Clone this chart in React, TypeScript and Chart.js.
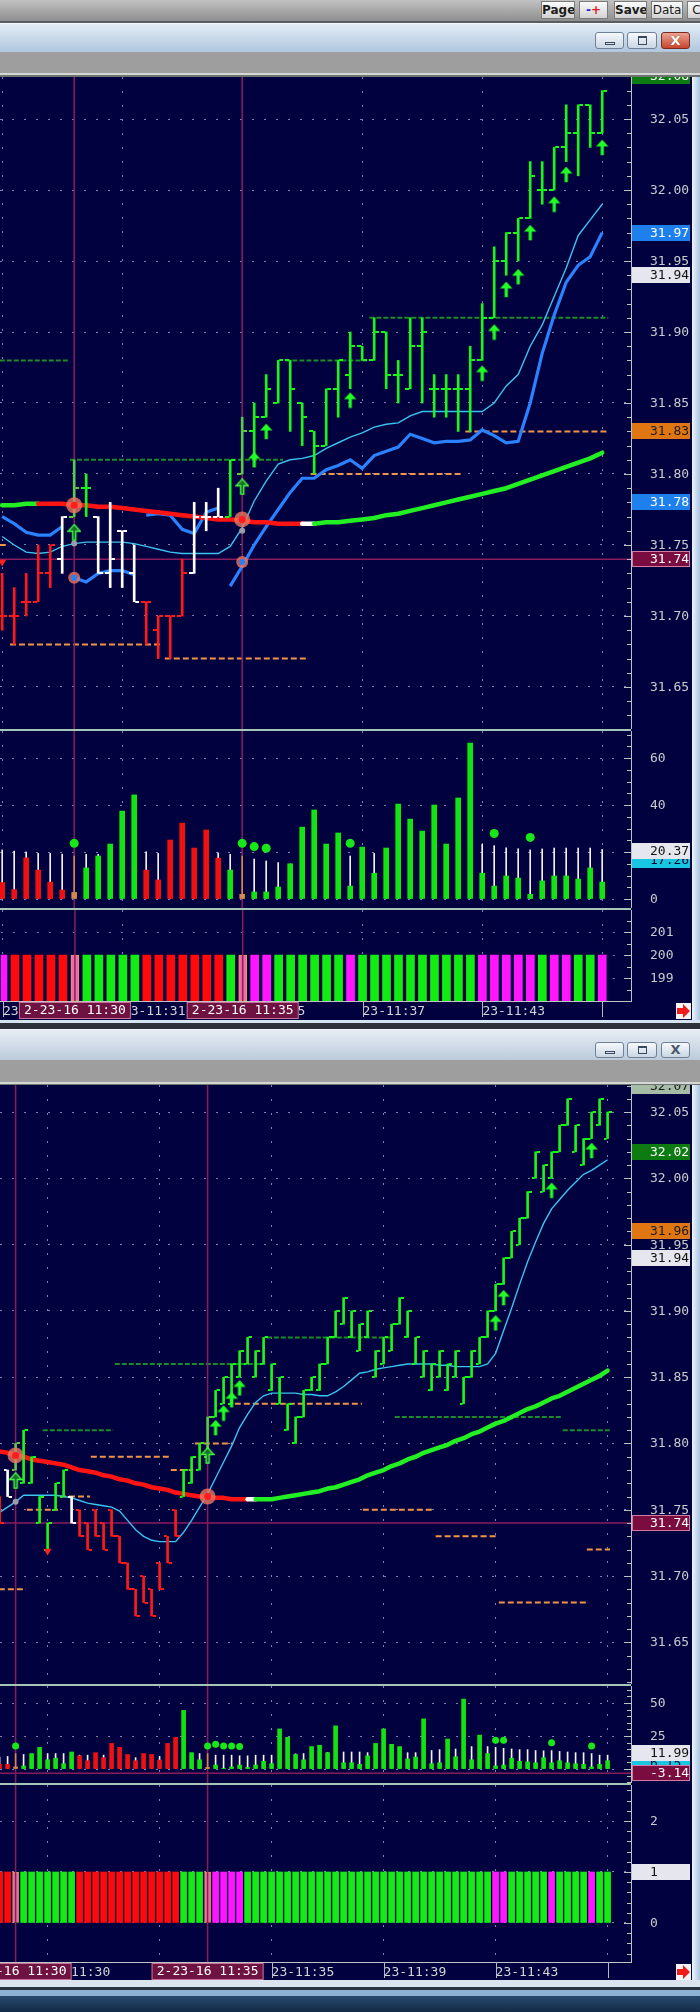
import React, { useEffect, useRef } from "react";
import { Chart, registerables } from "chart.js";

Chart.register(...registerables);
Chart.defaults.font.family = "'DejaVu Sans Mono', monospace";
Chart.defaults.font.size = 13;

/* ======================= UPPER WINDOW DATA ======================= */
const upperOpen = [31.70, 31.70, 31.71, 31.71, 31.73, 31.74, 31.77, 31.79, 31.77, 31.73,
  31.76, 31.73, 31.71, 31.69, 31.70, 31.70, 31.73, 31.77, 31.77, 31.77,
  31.80, 31.83, 31.84, 31.85, 31.88, 31.85, 31.83, 31.82, 31.86, 31.87,
  31.89, 31.88, 31.90, 31.87, 31.86, 31.89, 31.86, 31.86, 31.86, 31.86,
  31.88, 31.91, 31.95, 31.97, 31.98, 32.00, 32.00, 32.03, 32.04, 32.06, 32.04];
const upperHigh = [31.73, 31.72, 31.73, 31.75, 31.75, 31.77, 31.81, 31.80, 31.77, 31.78,
  31.76, 31.75, 31.71, 31.70, 31.70, 31.74, 31.78, 31.78, 31.79, 31.81,
  31.84, 31.85, 31.87, 31.88, 31.88, 31.85, 31.83, 31.86, 31.88, 31.90,
  31.89, 31.91, 31.90, 31.88, 31.91, 31.91, 31.87, 31.87, 31.87, 31.89,
  31.92, 31.96, 31.97, 31.98, 32.02, 32.02, 32.03, 32.06, 32.06, 32.06, 32.07];
const upperLow = [31.69, 31.68, 31.70, 31.71, 31.72, 31.73, 31.77, 31.77, 31.73, 31.72,
  31.72, 31.71, 31.68, 31.67, 31.67, 31.70, 31.73, 31.76, 31.77, 31.77,
  31.80, 31.81, 31.84, 31.85, 31.83, 31.82, 31.80, 31.82, 31.84, 31.86,
  31.88, 31.88, 31.86, 31.85, 31.86, 31.85, 31.84, 31.84, 31.83, 31.83,
  31.88, 31.91, 31.94, 31.95, 31.98, 31.99, 32.00, 32.02, 32.01, 32.03, 32.04];
const upperClose = [31.70, 31.70, 31.71, 31.73, 31.75, 31.77, 31.79, 31.79, 31.73, 31.74,
  31.76, 31.71, 31.71, 31.70, 31.70, 31.73, 31.77, 31.77, 31.77, 31.81,
  31.83, 31.84, 31.86, 31.88, 31.86, 31.84, 31.82, 31.86, 31.88, 31.89,
  31.88, 31.90, 31.87, 31.87, 31.89, 31.90, 31.86, 31.86, 31.86, 31.88,
  31.91, 31.95, 31.97, 31.98, 32.01, 32.00, 32.03, 32.04, 32.06, 32.04, 32.07];
const upperBarKind = "rrrrrwhgwwwwrrrrwwwgh" + "gggggggggg" + "gggggggggg" + "gggggggggg";

const upperMA = [31.778, 31.778, 31.779, 31.779, 31.779, 31.779, 31.778, 31.778, 31.777, 31.777,
  31.776, 31.775, 31.774, 31.773, 31.772, 31.771, 31.770, 31.769, 31.768, 31.768,
  31.767, 31.766, 31.766, 31.765, 31.765, 31.765, 31.765, 31.766, 31.766, 31.767,
  31.768, 31.769, 31.771, 31.772, 31.774, 31.776, 31.778, 31.780, 31.782, 31.784,
  31.786, 31.788, 31.790, 31.793, 31.796, 31.799, 31.802, 31.805, 31.808, 31.811, 31.815];
const upperMAKind = "ggg" + "rrrrrrrrrr" + "rrrrrrrrrr" + "rr" + "w" + "gggggggggg" + "gggggggggg" + "ggggg";

const upperCyan = [31.756, 31.750, 31.745, 31.744, 31.745, 31.749, 31.751, 31.752, 31.752, 31.752,
  31.752, 31.751, 31.749, 31.747, 31.745, 31.744, 31.744, 31.744, 31.744, 31.749,
  31.762, 31.781, 31.795, 31.807, 31.810, 31.811, 31.813, 31.818, 31.822, 31.826,
  31.829, 31.833, 31.835, 31.836, 31.841, 31.844, 31.844, 31.844, 31.844, 31.844,
  31.844, 31.850, 31.862, 31.870, 31.890, 31.905, 31.925, 31.945, 31.968, 31.979, 31.990];

const upperBlue = [31.770, 31.765, 31.759, 31.757, 31.757, 31.763, 31.727, 31.724, 31.730, 31.732,
  31.732, 31.729, 31.771, 31.772, 31.771, 31.761, 31.758, 31.773, 31.776, 31.721,
  31.735, 31.750, 31.763, 31.775, 31.787, 31.797, 31.797, 31.803, 31.806, 31.810,
  31.804, 31.813, 31.816, 31.819, 31.828, 31.825, 31.822, 31.823, 31.823, 31.824,
  31.831, 31.827, 31.822, 31.823, 31.850, 31.885, 31.912, 31.935, 31.947, 31.953, 31.970];
const upperBlueBreaks = [5, 11, 18];

const upperRefPrice = 31.74;
const upperLevelFrom = [-0.2, 5.65, 23.6, 30.6, -0.2, 0.65, 13.55, 25.7, 38.6];
const upperLevelTo = [5.5, 23.4, 30.4, 50.5, 0.4, 13.4, 25.5, 38.4, 50.5];
const upperLevelPrice = [31.88, 31.81, 31.88, 31.91, 31.75, 31.68, 31.67, 31.80, 31.83];
const upperLevelKind = ["g", "g", "g", "g", "o", "o", "o", "o", "o"];

const upperArrowIndex = [6, 20, 21, 22, 29, 40, 41, 42, 43, 44, 46, 47, 50];
const upperArrowPrice = [31.759, 31.791, 31.810, 31.830, 31.852, 31.871, 31.900, 31.930, 31.939, 31.970, 31.990, 32.011, 32.030];
const upperArrowHollow = [1, 1, 0, 0, 0, 0, 0, 0, 0, 0, 0, 0, 0];

const upperCircleIndex = [6, 20];
const upperCirclePrice = [31.778, 31.768];
const upperRingIndex = [6, 20];
const upperRingPrice = [31.727, 31.738];
const upperGrayIndex = [6, 20];
const upperGrayPrice = [31.751, 31.760];
const upperDownIndex = [0];
const upperDownPrice = [31.738];

const upperPriceBoxValue = [32.08, 31.97, 31.94, 31.83, 31.78, 31.74];
const upperPriceBoxStyle = ["green", "blue", "light", "orange", "blue", "maroon"];

const upperVolume = [7, 4, 17.5, 12.3, 7.2, 3.8, 2.8, 13.2, 18.3, 23.4,
  37.4, 44.3, 12.3, 8.1, 25.1, 32.3, 21.7, 29.4, 17.4, 12.3,
  2, 3, 3, 5.1, 15, 30.6, 37.9, 23.4, 28.1, 5.5,
  22.1, 11, 21.7, 40.4, 34, 28.9, 40, 23.4, 43, 66.4,
  11, 5.5, 9.8, 8.9, 2, 7.7, 9.8, 9.8, 8.5, 13.2, 7.2];
const upperVolumeKind = "rrrrrrogggggrrrrrrrgo" + "gggggggggg" + "gggggggggg" + "gggggggggg";
const upperVolumeLine = [20.9, 20.4, 20, 19.4, 19.4, 19.1, 18.3, 19, 19, 19,
  20.1, 20.1, 20.1, 19.4, 19, 19.1, 19.6, 19.6, 19.6, 19,
  18.3, 17, 16.2, 15.5, 14.9, 15.9, 16.6, 17.3, 18, 18.3,
  18.7, 19.4, 19.4, 20.1, 20.9, 21.1, 20.6, 20.6, 21.6, 22.3,
  23.3, 22.7, 21.8, 21.4, 20.9, 21.3, 21.7, 21.7, 21.7, 21.7, 21.1];
const upperDotIndex = [6, 20, 21, 22, 29, 41, 44];
const upperDotValue = [23.7, 23.7, 22.3, 21.6, 23.7, 27.9, 26.2];
const upperVolumeBoxValue = [16.5, 20.37];
const upperVolumeBoxText = ["17.26", "20.37"];
const upperVolumeBoxStyle = ["cyan", "light"];

const upperSignalKind = ["m", "rrrrr", "o", "ggggg", "rrrrrrr", "g", "o", "mm", "gggggg", "m",
  "gggggggggg", "mmmmm", "g", "mm", "gg", "m"].join("");
const upperSignalValue = 200;
const upperSignalFloor = 198;

const upperPriceTicks = [31.65, 31.7, 31.75, 31.8, 31.85, 31.9, 31.95, 32.0, 32.05];
const upperVolumeTicks = [0, 20, 40, 60];
const upperSignalTicks = [199, 200, 201];
const upperTimeTicks = [0, 10, 20, 30, 40, 50];
const upperTimeLabels = ["23-11:29", "23-11:31", "23-11:35", "23-11:37", "23-11:43", ""];
const upperCrossIndex = [6, 20];
const upperCrossLabel = ["2-23-16 11:30", "2-23-16 11:35"];

/* ======================= LOWER WINDOW DATA ======================= */
const lowerOpen = [31.76, 31.78, 31.78, 31.77, 31.77, 31.74, 31.72, 31.75, 31.76, 31.76,
  31.75, 31.74, 31.75, 31.74, 31.75, 31.73, 31.71, 31.69, 31.70, 31.69,
  31.71, 31.73, 31.75, 31.76, 31.77, 31.78, 31.79, 31.82, 31.83, 31.83,
  31.85, 31.86, 31.85, 31.86, 31.84, 31.83, 31.81, 31.80, 31.82, 31.84,
  31.84, 31.86, 31.88, 31.89, 31.88, 31.87, 31.88, 31.85, 31.86, 31.87,
  31.89, 31.88, 31.86, 31.85, 31.84, 31.85, 31.84, 31.85, 31.83, 31.85,
  31.86, 31.88, 31.90, 31.92, 31.94, 31.95, 31.97, 32.00, 31.99, 32.00,
  32.02, 32.04, 32.02, 32.01, 32.03, 32.04, 32.03];
const lowerHigh = [31.76, 31.78, 31.80, 31.81, 31.79, 31.76, 31.74, 31.77, 31.78, 31.76,
  31.75, 31.74, 31.75, 31.74, 31.75, 31.73, 31.71, 31.69, 31.70, 31.69,
  31.71, 31.73, 31.75, 31.78, 31.79, 31.80, 31.82, 31.84, 31.85, 31.86,
  31.87, 31.88, 31.87, 31.88, 31.86, 31.85, 31.83, 31.82, 31.84, 31.85,
  31.86, 31.88, 31.90, 31.91, 31.90, 31.89, 31.90, 31.87, 31.88, 31.89,
  31.91, 31.90, 31.88, 31.87, 31.86, 31.87, 31.86, 31.87, 31.85, 31.87,
  31.88, 31.90, 31.92, 31.94, 31.96, 31.97, 31.99, 32.02, 32.01, 32.02,
  32.04, 32.06, 32.04, 32.03, 32.05, 32.06, 32.05];
const lowerLow = [31.74, 31.76, 31.78, 31.77, 31.77, 31.74, 31.72, 31.75, 31.76, 31.74,
  31.73, 31.72, 31.73, 31.72, 31.73, 31.71, 31.69, 31.67, 31.68, 31.67,
  31.69, 31.71, 31.73, 31.76, 31.77, 31.78, 31.79, 31.82, 31.83, 31.83,
  31.85, 31.86, 31.85, 31.86, 31.84, 31.83, 31.81, 31.80, 31.82, 31.84,
  31.84, 31.86, 31.88, 31.89, 31.88, 31.87, 31.88, 31.85, 31.86, 31.87,
  31.89, 31.88, 31.86, 31.85, 31.84, 31.85, 31.84, 31.85, 31.83, 31.85,
  31.86, 31.88, 31.90, 31.92, 31.94, 31.95, 31.97, 32.00, 31.99, 32.00,
  32.02, 32.04, 32.02, 32.01, 32.03, 32.04, 32.03];
const lowerClose = [31.74, 31.76, 31.80, 31.81, 31.79, 31.76, 31.74, 31.77, 31.78, 31.74,
  31.73, 31.72, 31.73, 31.72, 31.73, 31.71, 31.69, 31.67, 31.68, 31.67,
  31.69, 31.71, 31.73, 31.78, 31.79, 31.80, 31.82, 31.84, 31.85, 31.86,
  31.87, 31.88, 31.87, 31.88, 31.86, 31.85, 31.83, 31.82, 31.84, 31.85,
  31.86, 31.88, 31.90, 31.91, 31.90, 31.89, 31.90, 31.87, 31.88, 31.89,
  31.91, 31.90, 31.88, 31.87, 31.86, 31.87, 31.86, 31.87, 31.85, 31.87,
  31.88, 31.90, 31.92, 31.94, 31.96, 31.97, 31.99, 32.02, 32.01, 32.02,
  32.04, 32.06, 32.04, 32.03, 32.05, 32.06, 32.05];
const lowerBarKind = ["r", "w", "h", "gggggg", "w", "rrrrrrrrrrrrr", "ggg", "h",
  "gggggggggg", "gggggggggg", "gggggggggg", "gggggggggg", "gggggggggg"].join("");

const lowerMA = [31.794, 31.793, 31.791, 31.790, 31.788, 31.787, 31.786, 31.785, 31.784, 31.782,
  31.780, 31.779, 31.778, 31.776, 31.775, 31.773, 31.772, 31.770, 31.769, 31.767,
  31.766, 31.765, 31.763, 31.762, 31.761, 31.760, 31.760, 31.759, 31.759, 31.758,
  31.758, 31.758, 31.758, 31.758, 31.758, 31.759, 31.760, 31.761, 31.762, 31.763,
  31.764, 31.766, 31.767, 31.769, 31.771, 31.773, 31.776, 31.778, 31.780, 31.783,
  31.785, 31.788, 31.790, 31.793, 31.795, 31.797, 31.799, 31.802, 31.804, 31.807,
  31.809, 31.812, 31.815, 31.817, 31.820, 31.823, 31.826, 31.828, 31.831, 31.834,
  31.836, 31.839, 31.842, 31.845, 31.848, 31.851, 31.855];
const lowerMAKind = ["rrrrrrrrrr", "rrrrrrrrrr", "rrrrrrrrrr", "r", "w",
  "gggggggggg", "gggggggggg", "gggggggggg", "gggggggggg", "ggggg"].join("");

const lowerCyan = [31.748, 31.752, 31.756, 31.761, 31.761, 31.761, 31.761, 31.761, 31.760, 31.759,
  31.757, 31.755, 31.754, 31.753, 31.752, 31.749, 31.742, 31.735, 31.730, 31.727,
  31.726, 31.726, 31.726, 31.733, 31.742, 31.752, 31.762, 31.774, 31.786, 31.798,
  31.812, 31.822, 31.831, 31.836, 31.838, 31.838, 31.838, 31.838, 31.837, 31.837,
  31.836, 31.836, 31.839, 31.843, 31.848, 31.853, 31.854, 31.856, 31.857, 31.858,
  31.859, 31.860, 31.860, 31.860, 31.860, 31.859, 31.859, 31.858, 31.858, 31.858,
  31.858, 31.860, 31.868, 31.885, 31.902, 31.920, 31.937, 31.952, 31.966, 31.977,
  31.984, 31.991, 31.997, 32.003, 32.006, 32.010, 32.014];

const lowerRefPrice = 31.74;
const lowerLevelFrom = [14.4, 5.4, 33.4, 49.4, 70.4, -0.1, 3.4, 7.55, 11.4, 21.4, 24.4, 29.4, 45.4, 54.5, 62.4, 73.4];
const lowerLevelTo = [33.2, 14.2, 49.2, 70.3, 76.3, 3.3, 7.3, 11.3, 21.3, 24.2, 29.2, 45.3, 54.3, 62.3, 73.3, 76.3];
const lowerLevelPrice = [31.86, 31.81, 31.88, 31.82, 31.81, 31.69, 31.75, 31.76, 31.79, 31.78, 31.80, 31.83, 31.75, 31.73, 31.68, 31.72];
const lowerLevelKind = ["g", "g", "g", "g", "g", "o", "o", "o", "o", "o", "o", "o", "o", "o", "o", "o"];

const lowerArrowIndex = [2, 26, 27, 28, 29, 30, 62, 63, 69, 74];
const lowerArrowPrice = [31.772, 31.791, 31.812, 31.823, 31.833, 31.842, 31.891, 31.910, 31.991, 32.021];
const lowerArrowHollow = [1, 1, 0, 0, 0, 0, 0, 0, 0, 0];
const lowerCircleIndex = [2, 26];
const lowerCirclePrice = [31.791, 31.760];
const lowerGrayIndex = [2];
const lowerGrayPrice = [31.756];
const lowerDownIndex = [6];
const lowerDownPrice = [31.719];

const lowerPriceBoxValue = [32.07, 32.02, 31.96, 31.94, 31.74];
const lowerPriceBoxStyle = ["sage", "green", "orange", "light", "maroon"];

const lowerVolume = [3.5, 3.5, 1.6, 2.3, 11.7, 16.4, 7, 8.2, 4, 12.9,
  10, 6.3, 12.4, 8.6, 19.4, 16.4, 11, 6.3, 11.7, 11,
  6.8, 19.4, 24, 44.4, 12.4, 7, 1.2, 3, 0.5, 1.6,
  3, 1.2, 3, 5.8, 4, 30.4, 24, 11, 7, 17,
  18, 12.4, 32.7, 4.7, 4.7, 3.5, 10, 19.4, 30.4, 18.7,
  17, 7.7, 9.1, 38, 4, 4.7, 22.7, 9.3, 53, 7,
  25.7, 11.7, 2.3, 3, 8.2, 5.8, 5.4, 4.7, 8.6, 4.7,
  6.3, 4.7, 4, 3.5, 1.6, 3.5, 6.3];
const lowerVolumeKind = ["rr", "o", "ggggggg", "rrrrrrrrrrrrr", "ggg", "o",
  "gggggggggg", "gggggggggg", "gggggggggg", "gggggggggg", "gggggggggg"].join("");
const lowerVolumeLine = [9, 9.5, 11.7, 11, 11, 11, 11.7, 11.7, 11.7, 11,
  10.5, 10.5, 10.5, 10.5, 10.5, 10.5, 9.8, 8.6, 9.5, 9.5,
  9.5, 10, 10, 10.5, 11, 11.7, 11.7, 10.5, 10.5, 10.5,
  10, 10, 10.5, 10.5, 10.5, 11, 11, 11.5, 11.7, 12,
  12.4, 12.6, 12.9, 12.9, 12.9, 12.9, 12.4, 12.4, 12.4, 12.4,
  12.4, 12.4, 12.4, 13, 14, 14.7, 15, 15.2, 16, 17,
  17, 17, 16.4, 15.7, 15.2, 14.7, 14.7, 14, 13.8, 14,
  13.3, 12.9, 12.4, 12.4, 11.7, 10.5, 10.5];
const lowerDotIndex = [2, 26, 27, 28, 29, 30, 62, 63, 69, 74];
const lowerDotValue = [17.5, 17.5, 18.7, 17.5, 17.5, 17, 21.7, 21.7, 19.9, 17.5];
const lowerVolumeRef = -3.14;
const lowerVolumeBoxValue = [4.6, 11.99, -3.14];
const lowerVolumeBoxText = ["6.15", "11.99", "-3.14"];
const lowerVolumeBoxStyle = ["cyan", "light", "maroon"];

const lowerSignalKind = ["rr", "o", "ggggggg", "rrrrrrrrrrrrr", "ggg", "o", "mmmm",
  "gggggggggg", "gggggggggg", "gggggggggg", "g", "mm", "ggggg", "m", "gggg", "m", "gg"].join("");
const lowerSignalValue = 1;
const lowerSignalFloor = 0;
const lowerSignalBoxValue = [1];
const lowerSignalBoxStyle = ["light"];

const lowerPriceTicks = [31.65, 31.7, 31.75, 31.8, 31.85, 31.9, 31.95, 32.0, 32.05];
const lowerVolumeTicks = [0, 25, 50];
const lowerSignalTicks = [0, 1, 2];
const lowerTimeTicks = [6, 20, 34, 48, 62, 76];
const lowerTimeLabels = ["23-11:30", "23-11:33", "23-11:35", "23-11:39", "23-11:43", ""];
const lowerCrossIndex = [2, 26];
const lowerCrossLabel = ["2-23-16 11:30", "2-23-16 11:35"];

/* ======================= STYLE ======================= */
const NAVY = "#01013f";
const GRID = "rgba(150,150,200,0.85)";
const PURPLE = "#8a1c5c";
const CYAN = "#3cc4f0";
const BLUE = "#2a82ff";
const BAR_COLORS: any = { r: "#ff1a1a", g: "#1cf51c", w: "#ffffff", h: "#5cc84c" };
const VOL_COLORS: any = { r: "#f01010", g: "#12e412", o: "#d08a48" };
const SIG_COLORS: any = { r: "#ff0a0a", g: "#12ec12", m: "#ff16ff", o: "#f06aa8" };
const MA_COLORS: any = { r: "#ff1414", g: "#22f022", w: "#ffffff" };
const LEVEL_COLORS: any = { o: "#f0944a", g: "#1f8a28" };
const BOX_STYLES: any = {
  green: { bg: "#0c7c12", fg: "#ffffff" },
  blue: { bg: "#1e80ec", fg: "#ffffff" },
  light: { bg: "#e6e6ee", fg: "#111111" },
  orange: { bg: "#e07612", fg: "#1a1a1a" },
  maroon: { bg: "#7a0c40", fg: "#ffffff", edge: "#d07aa4" },
  cyan: { bg: "#18c6e2", fg: "#0a0a30" },
  sage: { bg: "#a6bca6", fg: "#1a1a1a" },
};
const LABEL_FONT = "13px 'DejaVu Sans Mono'";

const UPPER_X = { min: -0.183, max: 52.4 };
const LOWER_X = { min: 0.05, max: 78.925 };

/* ======================= HELPERS ======================= */
const imgCache: any = {};
function tickImage(color: string, side: string, len: number, w: number) {
  const key = color + side + len + "_" + w;
  if (imgCache[key]) return imgCache[key];
  const c = document.createElement("canvas");
  c.width = len * 2 + w;
  c.height = 2;
  const g = c.getContext("2d")!;
  g.fillStyle = color;
  if (side === "L") g.fillRect(0, 0, len, 2);
  else g.fillRect(len + w, 0, len, 2);
  imgCache[key] = c;
  return c;
}
function arrowImage(hollow: boolean) {
  const key = "arrow" + hollow;
  if (imgCache[key]) return imgCache[key];
  const c = document.createElement("canvas");
  c.width = 14;
  c.height = 17;
  const g = c.getContext("2d")!;
  g.beginPath();
  g.moveTo(7, 0.8);
  g.lineTo(13.2, 7.5);
  g.lineTo(8.6, 7.5);
  g.lineTo(8.6, 16.2);
  g.lineTo(5.4, 16.2);
  g.lineTo(5.4, 7.5);
  g.lineTo(0.8, 7.5);
  g.closePath();
  if (hollow) {
    g.fillStyle = "#1d6e2c";
    g.fill();
    g.strokeStyle = "#44ff44";
    g.lineWidth = 1.3;
    g.stroke();
  } else {
    g.fillStyle = "#22ff22";
    g.fill();
  }
  imgCache[key] = c;
  return c;
}

function lineDs(data: any[], color: string, width: number, order: number, extra: any = {}) {
  return { type: "line", data, borderColor: color, borderWidth: width, pointRadius: 0, pointHoverRadius: 0, fill: false, tension: 0, order, ...extra };
}
function pointsDs(data: any[], order: number, extra: any = {}) {
  return { type: "line", showLine: false, data, pointRadius: 4, pointHoverRadius: 0, pointBorderWidth: 0, order, ...extra };
}

function yLabelsPlugin(digits: number) {
  return {
    id: "yLabels",
    afterDraw(chart: any) {
      const { ctx, chartArea, scales } = chart;
      const y = scales.y;
      ctx.save();
      ctx.font = LABEL_FONT;
      ctx.fillStyle = "#c8cccc";
      ctx.textAlign = "left";
      ctx.textBaseline = "middle";
      y.ticks.forEach((t: any) => {
        ctx.fillText(Number(t.value).toFixed(digits), chartArea.right + 19, Math.round(y.getPixelForValue(t.value)) + 1);
      });
      ctx.restore();
    },
  };
}

function valueBoxesPlugin(values: number[], texts: string[], styles: string[]) {
  return {
    id: "valueBoxes",
    afterDraw(chart: any) {
      const { ctx, chartArea, scales } = chart;
      const y = scales.y;
      ctx.save();
      ctx.font = LABEL_FONT;
      ctx.textAlign = "left";
      ctx.textBaseline = "middle";
      values.forEach((v, k) => {
        const st = BOX_STYLES[styles[k]];
        const py = Math.round(y.getPixelForValue(v));
        const left = chartArea.right + 1;
        ctx.fillStyle = st.bg;
        ctx.fillRect(left, py - 8, 58, 16);
        if (st.edge) {
          ctx.strokeStyle = st.edge;
          ctx.lineWidth = 1;
          ctx.strokeRect(left + 0.5, py - 7.5, 57, 15);
        }
        ctx.fillStyle = st.fg;
        ctx.fillText(texts[k], chartArea.right + 19, py + 1);
      });
      ctx.restore();
    },
  };
}

function minorTicksPlugin(step: number, majorEvery: number) {
  return {
    id: "minorTicks",
    afterDraw(chart: any) {
      const { ctx, chartArea, scales } = chart;
      const y = scales.y;
      ctx.save();
      ctx.strokeStyle = "#b8c4c0";
      ctx.lineWidth = 1;
      const k0 = Math.ceil(y.min / step - 1e-6);
      const k1 = Math.floor(y.max / step + 1e-6);
      for (let k = k0; k <= k1; k++) {
        const py = Math.round(y.getPixelForValue(k * step)) + 0.5;
        const len = k % majorEvery === 0 ? 7 : 4;
        ctx.beginPath();
        ctx.moveTo(chartArea.right - len, py);
        ctx.lineTo(chartArea.right, py);
        ctx.stroke();
      }
      ctx.restore();
    },
  };
}

function timeRowPlugin(crossIdx: number[], crossText: string[]) {
  return {
    id: "timeRow",
    afterDraw(chart: any) {
      const { ctx, chartArea, scales } = chart;
      const x = scales.x;
      const top = chartArea.bottom;
      ctx.save();
      ctx.strokeStyle = "#b8b8c0";
      ctx.lineWidth = 1;
      x.ticks.forEach((t: any) => {
        const px = Math.round(x.getPixelForValue(t.value)) + 0.5;
        ctx.beginPath();
        ctx.moveTo(px, top);
        ctx.lineTo(px, top + 16);
        ctx.stroke();
      });
      ctx.font = LABEL_FONT;
      ctx.textAlign = "center";
      ctx.textBaseline = "middle";
      crossIdx.forEach((ci, k) => {
        const cx = x.getPixelForValue(ci);
        const w = 112;
        const h = 17;
        ctx.fillStyle = "#6e1242";
        ctx.fillRect(cx - w / 2, top + 1, w, h);
        ctx.strokeStyle = "#c8709a";
        ctx.strokeRect(cx - w / 2 + 0.5, top + 1.5, w - 1, h - 1);
        ctx.fillStyle = "#ffffff";
        ctx.fillText(crossText[k], cx, top + 10);
      });
      ctx.restore();
    },
  };
}

function makeConfig(s: any) {
  return {
    type: "bar",
    data: { datasets: s.datasets },
    options: {
      animation: false,
      responsive: false,
      maintainAspectRatio: false,
      devicePixelRatio: 1,
      events: [],
      layout: { padding: 0, autoPadding: false },
      plugins: { legend: { display: false }, tooltip: { enabled: false } },
      scales: {
        x: {
          type: "linear",
          min: s.xMin,
          max: s.xMax,
          offset: false,
          afterBuildTicks: (sc: any) => {
            sc.ticks = s.xGrid.map((v: number) => ({ value: v }));
          },
          afterFit: (sc: any) => {
            sc.height = s.xAxisH;
          },
          grid: { color: GRID, lineWidth: 1, drawTicks: false, offset: false },
          border: { display: s.xAxisH > 0, color: "#c0c4c4", width: 1, dash: s.xDash },
          ticks: {
            display: !!s.xLabels,
            autoSkip: false,
            maxRotation: 0,
            minRotation: 0,
            align: "start",
            padding: 3,
            color: "#d4d4d8",
            font: { size: 13 },
            callback: (_v: any, i: number) => (s.xLabels ? s.xLabels[i] : ""),
          },
        },
        y: {
          type: "linear",
          position: "right",
          min: s.yMin,
          max: s.yMax,
          afterBuildTicks: (sc: any) => {
            sc.ticks = s.yTicks.map((v: number) => ({ value: v }));
          },
          afterFit: (sc: any) => {
            sc.width = 61;
          },
          grid: { color: GRID, lineWidth: 1, drawTicks: false },
          border: { display: true, color: "#b8c4c0", width: 1, dash: [2, 10] },
          ticks: { display: false },
        },
      },
    },
    plugins: [yLabelsPlugin(s.yDigits), ...s.plugins],
  };
}

function buildPrice(p: any) {
  const idx = p.high.map((_: number, i: number) => i);
  const ds: any[] = [];
  p.levelPrice.forEach((v: number, k: number) => {
    const kind = p.levelKind[k];
    ds.push(lineDs([{ x: p.levelFrom[k], y: v }, { x: p.levelTo[k], y: v }], LEVEL_COLORS[kind], 2, 20, { borderDash: kind === "o" ? [6, 3] : [5, 2] }));
  });
  ds.push(lineDs([{ x: p.xMin, y: p.refPrice }, { x: p.xMax, y: p.refPrice }], PURPLE, 1.5, 19));
  p.crossIndex.forEach((ci: number) => ds.push(lineDs([{ x: ci, y: p.yMin }, { x: ci, y: p.yMax }], PURPLE, 1.5, 19)));
  ds.push(lineDs(idx.map((i: number) => ({ x: i, y: p.cyan[i] })), CYAN, 1.4, 15));
  if (p.blue) {
    ds.push(lineDs(idx.map((i: number) => ({ x: i, y: p.blue[i] })), BLUE, 3.2, 14, {
      segment: { borderColor: (c: any) => (p.blueBreaks.includes(c.p0DataIndex) ? "rgba(0,0,0,0)" : BLUE) },
    }));
  }
  ds.push(lineDs(idx.map((i: number) => ({ x: i, y: p.ma[i] })), MA_COLORS.r, p.maWidth, 13, {
    borderCapStyle: "round",
    borderJoinStyle: "round",
    segment: { borderColor: (c: any) => MA_COLORS[p.maKind[c.p0DataIndex]] },
  }));
  ds.push({
    type: "bar",
    data: idx.map((i: number) => ({ x: i, y: [p.low[i], p.high[i]] })),
    backgroundColor: idx.map((i: number) => BAR_COLORS[p.kind[i]]),
    barThickness: p.barW,
    maxBarThickness: p.barW,
    grouped: false,
    order: 10,
  });
  ds.push(pointsDs(idx.map((i: number) => ({ x: i, y: p.open[i] })), 9, {
    pointStyle: idx.map((i: number) => tickImage(BAR_COLORS[p.kind[i]], "L", p.tickLen, p.barW)),
  }));
  ds.push(pointsDs(idx.map((i: number) => ({ x: i, y: p.close[i] })), 9, {
    pointStyle: idx.map((i: number) => tickImage(BAR_COLORS[p.kind[i]], "R", p.tickLen, p.barW)),
  }));
  ds.push(pointsDs(p.circleIndex.map((ci: number, k: number) => ({ x: ci, y: p.circlePrice[k] })), 6, {
    pointStyle: "circle", pointRadius: 8, pointBackgroundColor: "rgba(236,118,96,0.8)",
  }));
  ds.push(pointsDs(p.circleIndex.map((ci: number, k: number) => ({ x: ci, y: p.circlePrice[k] })), 5, {
    pointStyle: "circle", pointRadius: 3.5, pointBackgroundColor: "#ff1c1c",
  }));
  if (p.ringIndex) {
    ds.push(pointsDs(p.ringIndex.map((ci: number, k: number) => ({ x: ci, y: p.ringPrice[k] })), 6, {
      pointStyle: "circle", pointRadius: 6, pointBackgroundColor: "rgba(236,118,96,0.8)",
    }));
    ds.push(pointsDs(p.ringIndex.map((ci: number, k: number) => ({ x: ci, y: p.ringPrice[k] })), 5, {
      pointStyle: "circle", pointRadius: 3, pointBackgroundColor: "#2a7ef0",
    }));
  }
  ds.push(pointsDs(p.grayIndex.map((ci: number, k: number) => ({ x: ci, y: p.grayPrice[k] })), 5, {
    pointStyle: "circle", pointRadius: 3, pointBackgroundColor: "#9a9aa8",
  }));
  ds.push(pointsDs(p.downIndex.map((ci: number, k: number) => ({ x: ci, y: p.downPrice[k] })), 5, {
    pointStyle: "triangle", pointRotation: 180, pointRadius: 4.5, pointBackgroundColor: "#ff2020",
  }));
  ds.push(pointsDs(p.arrowIndex.map((ci: number, k: number) => ({ x: ci, y: p.arrowPrice[k] })), 3, {
    pointStyle: p.arrowHollow.map((h: number) => arrowImage(!!h)),
    pointRadius: 6,
  }));
  return makeConfig({
    datasets: ds,
    xMin: p.xMin, xMax: p.xMax, xGrid: p.xGrid, xAxisH: 0, xDash: [2, 12],
    yMin: p.yMin, yMax: p.yMax, yTicks: p.yTicks, yDigits: 2,
    plugins: [minorTicksPlugin(0.01, 5), valueBoxesPlugin(p.boxValue, p.boxValue.map((v: number) => v.toFixed(2)), p.boxStyle)],
  });
}

function buildVolume(v: any) {
  const idx = v.volume.map((_: number, i: number) => i);
  const ds: any[] = [];
  v.crossIndex.forEach((ci: number) => ds.push(lineDs([{ x: ci, y: v.yMin }, { x: ci, y: v.yMax }], PURPLE, 1.5, 19)));
  if (v.refValue !== undefined) {
    ds.push(lineDs([{ x: v.xMin, y: v.refValue }, { x: v.xMax, y: v.refValue }], PURPLE, 1.5, 19));
  }
  ds.push({
    type: "bar",
    data: idx.map((i: number) => ({ x: i, y: v.line[i] })),
    backgroundColor: idx.map((i: number) => (v.kind[i] === "o" ? "#d88848" : "#f4f4f4")),
    barThickness: 1,
    maxBarThickness: 1,
    grouped: false,
    order: 12,
  });
  ds.push({
    type: "bar",
    data: idx.map((i: number) => ({ x: i, y: v.volume[i] })),
    backgroundColor: idx.map((i: number) => VOL_COLORS[v.kind[i]]),
    barThickness: v.barW,
    maxBarThickness: v.barW,
    grouped: false,
    order: 11,
  });
  ds.push(pointsDs(v.dotIndex.map((d: number, k: number) => ({ x: d, y: v.dotValue[k] })), 5, {
    pointStyle: "circle", pointRadius: v.dotR, pointBackgroundColor: "#18e818",
  }));
  return makeConfig({
    datasets: ds,
    xMin: v.xMin, xMax: v.xMax, xGrid: v.xGrid, xAxisH: 0, xDash: [2, 12],
    yMin: v.yMin, yMax: v.yMax, yTicks: v.yTicks, yDigits: 0,
    plugins: [minorTicksPlugin(v.minorStep, v.majorEvery), valueBoxesPlugin(v.boxValue, v.boxText, v.boxStyle)],
  });
}

function buildSignal(s: any) {
  const idx = s.kind.split("").map((_: string, i: number) => i);
  const ds: any[] = [];
  s.crossIndex.forEach((ci: number) => ds.push(lineDs([{ x: ci, y: s.yMin }, { x: ci, y: s.yMax }], PURPLE, 1.5, 5)));
  ds.push({
    type: "bar",
    data: idx.map((i: number) => ({ x: i, y: [s.floor, s.value] })),
    backgroundColor: idx.map((i: number) => SIG_COLORS[s.kind[i]]),
    borderColor: idx.map((i: number) => (s.kind[i] === "o" ? "#e6a050" : "rgba(0,0,0,0)")),
    borderWidth: idx.map((i: number) => (s.kind[i] === "o" ? 1 : 0)),
    borderSkipped: false,
    barThickness: s.barW,
    maxBarThickness: s.barW,
    grouped: false,
    order: 10,
  });
  return makeConfig({
    datasets: ds,
    xMin: s.xMin, xMax: s.xMax, xGrid: s.xGrid, xLabels: s.xLabels, xAxisH: s.xAxisH, xDash: [2, 12],
    yMin: s.yMin, yMax: s.yMax, yTicks: s.yTicks, yDigits: 0,
    plugins: [
      minorTicksPlugin(s.minorStep, s.majorEvery),
      valueBoxesPlugin(s.boxValue, s.boxValue.map((v: number) => String(v)), s.boxStyle),
      timeRowPlugin(s.crossIndex, s.crossLabel),
    ],
  });
}

/* ======================= SPECS ======================= */
const upperPriceSpec = () =>
  buildPrice({
    open: upperOpen, high: upperHigh, low: upperLow, close: upperClose, kind: upperBarKind,
    ma: upperMA, maKind: upperMAKind, maWidth: 4.5, cyan: upperCyan, blue: upperBlue, blueBreaks: upperBlueBreaks,
    refPrice: upperRefPrice, levelFrom: upperLevelFrom, levelTo: upperLevelTo, levelPrice: upperLevelPrice, levelKind: upperLevelKind,
    arrowIndex: upperArrowIndex, arrowPrice: upperArrowPrice, arrowHollow: upperArrowHollow,
    circleIndex: upperCircleIndex, circlePrice: upperCirclePrice, ringIndex: upperRingIndex, ringPrice: upperRingPrice,
    grayIndex: upperGrayIndex, grayPrice: upperGrayPrice, downIndex: upperDownIndex, downPrice: upperDownPrice,
    crossIndex: upperCrossIndex, boxValue: upperPriceBoxValue, boxStyle: upperPriceBoxStyle,
    xMin: UPPER_X.min, xMax: UPPER_X.max, xGrid: upperTimeTicks, yMin: 31.6204, yMax: 32.0796, yTicks: upperPriceTicks,
    barW: 2, tickLen: 4,
  });
const upperVolumeSpec = () =>
  buildVolume({
    volume: upperVolume, kind: upperVolumeKind, line: upperVolumeLine, dotIndex: upperDotIndex, dotValue: upperDotValue, dotR: 4.5,
    crossIndex: upperCrossIndex, boxValue: upperVolumeBoxValue, boxText: upperVolumeBoxText, boxStyle: upperVolumeBoxStyle,
    xMin: UPPER_X.min, xMax: UPPER_X.max, xGrid: upperTimeTicks, yMin: -3.83, yMax: 71.5, yTicks: upperVolumeTicks,
    barW: 5, minorStep: 5, majorEvery: 4,
  });
const upperSignalSpec = () =>
  buildSignal({
    kind: upperSignalKind, value: upperSignalValue, floor: upperSignalFloor, crossIndex: upperCrossIndex, crossLabel: upperCrossLabel,
    boxValue: [], boxStyle: [], xMin: UPPER_X.min, xMax: UPPER_X.max, xGrid: upperTimeTicks, xLabels: upperTimeLabels, xAxisH: 19,
    yMin: 198.0, yMax: 201.957, yTicks: upperSignalTicks, barW: 8, minorStep: 0.5, majorEvery: 2,
  });
const lowerPriceSpec = () =>
  buildPrice({
    open: lowerOpen, high: lowerHigh, low: lowerLow, close: lowerClose, kind: lowerBarKind,
    ma: lowerMA, maKind: lowerMAKind, maWidth: 4.5, cyan: lowerCyan, blue: null, blueBreaks: [],
    refPrice: lowerRefPrice, levelFrom: lowerLevelFrom, levelTo: lowerLevelTo, levelPrice: lowerLevelPrice, levelKind: lowerLevelKind,
    arrowIndex: lowerArrowIndex, arrowPrice: lowerArrowPrice, arrowHollow: lowerArrowHollow,
    circleIndex: lowerCircleIndex, circlePrice: lowerCirclePrice, ringIndex: null, ringPrice: null,
    grayIndex: lowerGrayIndex, grayPrice: lowerGrayPrice, downIndex: lowerDownIndex, downPrice: lowerDownPrice,
    crossIndex: lowerCrossIndex, boxValue: lowerPriceBoxValue, boxStyle: lowerPriceBoxStyle,
    xMin: LOWER_X.min, xMax: LOWER_X.max, xGrid: lowerTimeTicks, yMin: 31.6186, yMax: 32.0704, yTicks: lowerPriceTicks,
    barW: 2, tickLen: 3,
  });
const lowerVolumeSpec = () =>
  buildVolume({
    volume: lowerVolume, kind: lowerVolumeKind, line: lowerVolumeLine, dotIndex: lowerDotIndex, dotValue: lowerDotValue, dotR: 3.5,
    crossIndex: lowerCrossIndex, refValue: lowerVolumeRef, boxValue: lowerVolumeBoxValue, boxText: lowerVolumeBoxText, boxStyle: lowerVolumeBoxStyle,
    xMin: LOWER_X.min, xMax: LOWER_X.max, xGrid: lowerTimeTicks, yMin: -10.6, yMax: 62.9, yTicks: lowerVolumeTicks,
    barW: 4, minorStep: 5, majorEvery: 5,
  });
const lowerSignalSpec = () =>
  buildSignal({
    kind: lowerSignalKind, value: lowerSignalValue, floor: lowerSignalFloor, crossIndex: lowerCrossIndex, crossLabel: lowerCrossLabel,
    boxValue: lowerSignalBoxValue, boxStyle: lowerSignalBoxStyle, xMin: LOWER_X.min, xMax: LOWER_X.max, xGrid: lowerTimeTicks,
    xLabels: lowerTimeLabels, xAxisH: 18, yMin: -0.765, yMax: 2.706, yTicks: lowerSignalTicks, barW: 6, minorStep: 0.2, majorEvery: 5,
  });

/* ======================= COMPONENTS ======================= */
function Pane({ top, height, spec }: { top: number; height: number; spec: () => any }) {
  const ref = useRef<HTMLCanvasElement | null>(null);
  useEffect(() => {
    if (!ref.current) return;
    const chart = new Chart(ref.current, spec() as any);
    return () => chart.destroy();
  }, []);
  return (
    <canvas
      ref={ref}
      width={692}
      height={height}
      style={{ position: "absolute", left: 0, top, width: 692, height }}
    />
  );
}

const abs = (left: number, top: number, width: number, height: number, extra: any = {}) => ({
  position: "absolute" as const, left, top, width, height, ...extra,
});

function ToolButton({ left, width, children, bold }: any) {
  return (
    <div style={abs(left, 1, width, 18, {
      background: "linear-gradient(#fbfbfb,#d2d2d2)", border: "1px solid #7a7a7a", boxSizing: "border-box",
      fontFamily: "'DejaVu Sans', sans-serif", fontSize: 12, fontWeight: bold ? 700 : 400, color: "#1c1c1c",
      textAlign: "center", lineHeight: "16px", overflow: "hidden", whiteSpace: "nowrap",
    })}>{children}</div>
  );
}

function WinButtons({ top, height, active }: any) {
  const base = {
    border: "1px solid #6f8194", borderRadius: 3, boxSizing: "border-box" as const,
    background: "linear-gradient(#f6f9fc,#c9d6e4)",
  };
  return (
    <>
      <div style={abs(595, top, 29, height, base)}>
        <div style={abs(9, height - 8, 10, 3, { border: "1px solid #3a4a5c", boxSizing: "border-box" })} />
      </div>
      <div style={abs(627, top, 30, height, base)}>
        <div style={abs(10, 3, 9, height - 8, { border: "1px solid #3a4a5c", boxSizing: "border-box", borderTopWidth: 2 })} />
      </div>
      <div style={abs(661, top, 29, height, {
        ...base,
        background: active ? "linear-gradient(#eaa393,#c8452c)" : base.background,
        border: active ? "1px solid #7a2a1e" : base.border,
      })}>
        <div style={abs(0, 0, 27, height - 2, {
          textAlign: "center", lineHeight: height - 2 + "px", fontFamily: "'DejaVu Sans', sans-serif",
          fontWeight: 700, fontSize: 13, color: active ? "#ffffff" : "#4a5866",
          textShadow: active ? "0 0 1px #6a1a10" : "none",
        })}>X</div>
      </div>
    </>
  );
}

function ExitIcon({ top }: { top: number }) {
  return (
    <svg style={abs(676, top, 15, 16)} width={15} height={16} viewBox="0 0 15 16">
      <rect x={0} y={0} width={15} height={16} fill="#f4f4f4" />
      <polygon points="1,5 7,5 7,1 14,8 7,15 7,11 1,11" fill="#ee1c1c" />
    </svg>
  );
}

export default function App() {
  return (
    <div style={abs(0, 0, 700, 2012, { overflow: "hidden", background: NAVY, fontFamily: "'DejaVu Sans', sans-serif" })}>
      {/* application toolbar */}
      <div style={abs(0, 0, 700, 21, { background: "linear-gradient(#c2c2c2,#8e8e8e)" })} />
      <div style={abs(0, 21, 700, 2, { background: "#5a5e62" })} />
      <ToolButton left={541} width={34} bold>Page</ToolButton>
      <ToolButton left={579} width={29} bold>
        <span style={{ color: "#1a2ad0" }}>-</span>
        <span style={{ color: "#e01a1a" }}>+</span>
      </ToolButton>
      <ToolButton left={614} width={33} bold>Save</ToolButton>
      <ToolButton left={651} width={32}>Data</ToolButton>
      <ToolButton left={687} width={26}>CF</ToolButton>

      {/* upper window frame */}
      <div style={abs(0, 23, 700, 29, { background: "linear-gradient(#e3ecf5,#b0c7de)", borderTop: "1px solid #f4f8fc", boxSizing: "border-box" })} />
      <WinButtons top={32} height={17} active />
      <div style={abs(0, 52, 700, 21, { background: "#9e9e9e" })} />
      <div style={abs(0, 73, 700, 2, { background: "#d4d8d4" })} />
      <div style={abs(0, 75, 700, 2, { background: "#6e7270" })} />
      <div style={abs(692, 77, 8, 943, { background: "linear-gradient(90deg,#f0f5fa,#a8c4e2)" })} />

      <Pane top={77} height={652} spec={upperPriceSpec} />
      <div style={abs(0, 729, 631, 2, { background: "#a4c6b6" })} />
      <Pane top={731} height={177} spec={upperVolumeSpec} />
      <div style={abs(0, 908, 631, 2, { background: "#a4c6b6" })} />
      <Pane top={910} height={110} spec={upperSignalSpec} />
      <ExitIcon top={1003} />

      {/* gap between windows */}
      <div style={abs(0, 1020, 700, 3, { background: "#d6e4f2" })} />
      <div style={abs(0, 1023, 700, 6, { background: "#2c3238" })} />

      {/* lower window frame */}
      <div style={abs(0, 1029, 700, 31, { background: "linear-gradient(#e6edf4,#bccbdb)", borderTop: "1px solid #f4f8fc", boxSizing: "border-box" })} />
      <WinButtons top={1042} height={16} active={false} />
      <div style={abs(0, 1060, 700, 22, { background: "#9e9e9e" })} />
      <div style={abs(0, 1082, 700, 2, { background: "#d4d8d4" })} />
      <div style={abs(0, 1084, 700, 1, { background: "#6e7270" })} />
      <div style={abs(692, 1085, 8, 895, { background: "linear-gradient(90deg,#f0f5fa,#a8c4e2)" })} />

      <Pane top={1085} height={599} spec={lowerPriceSpec} />
      <div style={abs(0, 1684, 631, 2, { background: "#a4c6b6" })} />
      <Pane top={1686} height={97} spec={lowerVolumeSpec} />
      <div style={abs(0, 1783, 631, 2, { background: "#a4c6b6" })} />
      <Pane top={1785} height={195} spec={lowerSignalSpec} />
      <ExitIcon top={1964} />

      {/* bottom frame / taskbar */}
      <div style={abs(0, 1980, 700, 7, { background: "#dae5ef" })} />
      <div style={abs(0, 1987, 700, 3, { background: "#2a3440" })} />
      <div style={abs(0, 1990, 700, 6, { background: "#8fb2d2" })} />
      <div style={abs(0, 1996, 700, 16, { background: "linear-gradient(#27496c,#132b47)" })} />
    </div>
  );
}
